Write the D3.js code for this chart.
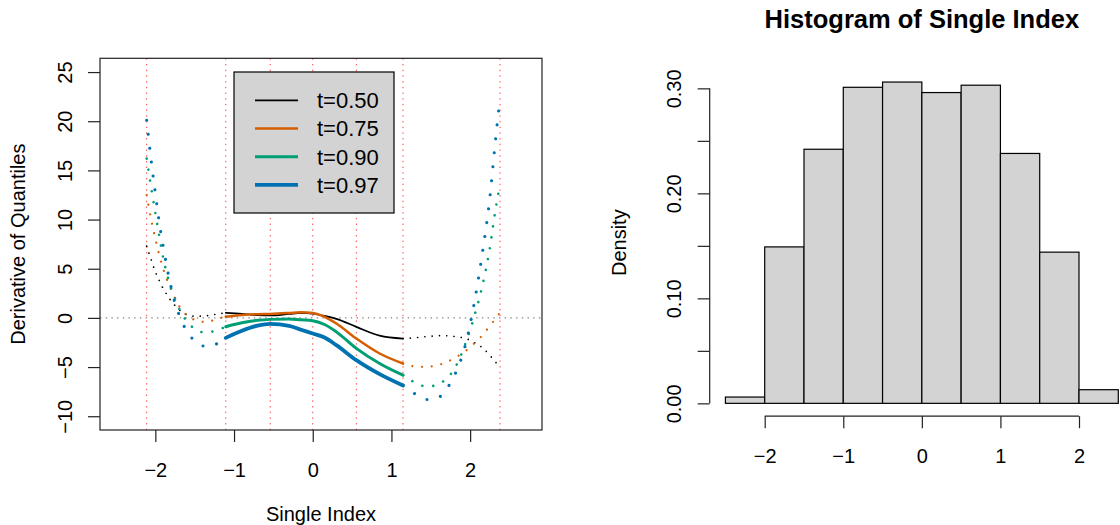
<!DOCTYPE html>
<html>
<head>
<meta charset="utf-8">
<script src="https://cdn.jsdelivr.net/npm/d3@7"></script>
<style>
  body { margin: 0; background: #fff; }
  svg { font-family: "Liberation Sans", Arial, Helvetica, sans-serif; }
</style>
</head>
<body>
<div id="chart"></div>
<script>
// Grid of single index values and the derivative curves
const xGrid = [-2.11, -2.05, -2.0, -1.95, -1.9, -1.85, -1.8, -1.75, -1.7, -1.6, -1.5, -1.4, -1.3, -1.2, -1.105,
  -0.9, -0.7, -0.54, -0.3, -0.15, 0, 0.15, 0.3, 0.554, 0.85, 1.147,
  1.25, 1.35, 1.45, 1.55, 1.65, 1.75, 1.85, 1.95, 2.05, 2.15, 2.25, 2.32, 2.38];

const derivT50 = [7.3, 5.86, 4.7, 3.8, 2.98, 2.33, 1.73, 1.26, 0.85, 0.32, 0.17, 0.18, 0.27, 0.41, 0.52,
  0.42, 0.28, 0.25, 0.4, 0.5, 0.42, 0.2, -0.1, -0.91, -1.8, -2.1,
  -2.05, -1.98, -1.9, -1.84, -1.8, -1.85, -1.95, -2.1, -2.5, -3.0, -3.8, -4.47, -5.0];
const derivT75 = [12.5, 9.9, 8.1, 6.4, 5.0, 3.83, 2.88, 2.0, 1.25, 0.27, -0.2, -0.4, -0.32, -0.07, 0.12,
  0.3, 0.38, 0.4, 0.5, 0.58, 0.5, 0.1, -0.57, -2.1, -3.62, -4.64,
  -4.88, -4.98, -4.98, -4.87, -4.66, -4.31, -3.86, -3.32, -2.6, -1.82, -0.8, -0.1, 0.55];
const derivT90 = [16.2, 13.1, 10.7, 8.3, 6.1, 4.4, 3.05, 1.95, 1.0, -0.35, -1.1, -1.45, -1.42, -1.2, -0.9,
  -0.5, -0.25, -0.15, -0.1, -0.2, -0.3, -0.67, -1.42, -3.1, -4.64, -5.83,
  -6.35, -6.8, -6.95, -6.9, -6.5, -5.75, -4.4, -2.4, 0.1, 3.1, 7.1, 10.9, 13.6];
const derivT97 = [20.1, 15.8, 12.7, 9.7, 7.25, 5.05, 3.15, 1.5, 0.35, -1.35, -2.34, -2.85, -2.88, -2.55, -2.03,
  -1.3, -0.78, -0.6, -0.8, -1.2, -1.59, -2.0, -2.77, -4.3, -5.72, -6.87,
  -7.45, -8.0, -8.3, -8.2, -7.8, -6.6, -4.95, -2.45, 1.4, 6.3, 12.2, 17.9, 22.4];

const seriesNames = ["t=0.50", "t=0.75", "t=0.90", "t=0.97"];
const seriesColors = ["#000000", "#D55E00", "#009E73", "#0072B2"];
const lineWidths = [1.7, 2.5, 3, 3.8];
const dotSizes = [1.7, 2.2, 2.6, 3.1];
const dotPeriods = [7.3, 9.7, 11, 14];

// knots (red dotted verticals) and the range drawn solid
const knots = [-2.11, -1.105, -0.54, 0, 0.554, 1.147, 2.38];
const solidRange = [-1.105, 1.147];

const xlimLeft = [-2.495, 2.705];
const ylimLeft = [-10, 25];
const xTicksLeft = [-2, -1, 0, 1, 2];
const yTicksLeft = [-10, -5, 0, 5, 10, 15, 20, 25];

// histogram
const histBreaks = [-2.5, -2, -1.5, -1, -0.5, 0, 0.5, 1, 1.5, 2, 2.5];
const histDensity = [0.006, 0.149, 0.242, 0.301, 0.306, 0.296, 0.303, 0.238, 0.144, 0.013];
const histXTicks = [-2, -1, 0, 1, 2];
const histYTicks = [0, 0.05, 0.10, 0.15, 0.20, 0.25, 0.30];

const width = 1120, height = 525;
const fontSize = 20;
const intFormat = d3.format("d");

const svg = d3.select("#chart").append("svg")
  .attr("width", width)
  .attr("height", height);

// R style 4% padding around the limits
function pad(lim) {
  const d = (lim[1] - lim[0]) * 0.04;
  return [lim[0] - d, lim[1] + d];
}

// ---------- left panel ----------
const left = { x0: 100, x1: 542, y0: 58.3, y1: 430 };
const xL = d3.scaleLinear().domain(pad(xlimLeft)).range([left.x0, left.x1]);
const yL = d3.scaleLinear().domain(pad(ylimLeft)).range([left.y1, left.y0]);

const gL = svg.append("g");

// red dotted knot lines
gL.selectAll(".knot")
  .data(knots)
  .enter().append("line")
  .attr("x1", d => xL(d)).attr("x2", d => xL(d))
  .attr("y1", left.y0).attr("y2", left.y1)
  .attr("stroke", "#ff0000")
  .attr("stroke-opacity", 0.75)
  .attr("stroke-width", 1)
  .attr("stroke-dasharray", "1.4 4.3");

// horizontal zero line
gL.append("line")
  .attr("x1", left.x0).attr("x2", left.x1)
  .attr("y1", yL(0)).attr("y2", yL(0))
  .attr("stroke", "#666")
  .attr("stroke-width", 1)
  .attr("stroke-dasharray", "1.4 4.3");

const allSeries = [derivT50, derivT75, derivT90, derivT97];

const line = d3.line()
  .x(d => xL(d[0]))
  .y(d => yL(d[1]))
  .curve(d3.curveMonotoneX);

allSeries.forEach((vals, i) => {
  const pts = xGrid.map((x, j) => [x, vals[j]]);
  const leftPart = pts.filter(p => p[0] <= solidRange[0]);
  const midPart = pts.filter(p => p[0] >= solidRange[0] && p[0] <= solidRange[1]);
  const rightPart = pts.filter(p => p[0] >= solidRange[1]);

  [leftPart, rightPart].forEach(part => {
    gL.append("path")
      .attr("d", line(part))
      .attr("fill", "none")
      .attr("stroke", seriesColors[i])
      .attr("stroke-width", dotSizes[i])
      .attr("stroke-linecap", "round")
      .attr("stroke-dasharray", "0.01 " + dotPeriods[i]);
  });

  gL.append("path")
    .attr("d", line(midPart))
    .attr("fill", "none")
    .attr("stroke", seriesColors[i])
    .attr("stroke-width", lineWidths[i])
    .attr("stroke-linecap", "round");
});

// box
gL.append("rect")
  .attr("x", left.x0).attr("y", left.y0)
  .attr("width", left.x1 - left.x0)
  .attr("height", left.y1 - left.y0)
  .attr("fill", "none")
  .attr("stroke", "#222")
  .attr("stroke-width", 1.2);

// x axis
const xAxisL = gL.append("g")
  .attr("transform", "translate(0," + left.y1 + ")")
  .call(d3.axisBottom(xL).tickValues(xTicksLeft).tickSize(12).tickFormat(intFormat));
xAxisL.select(".domain").remove();
xAxisL.selectAll("text").attr("y", 47).attr("dy", 0)
  .style("font-size", fontSize + "px").attr("fill", "#000");
xAxisL.selectAll("line").attr("stroke", "#222").attr("stroke-width", 1.2);

// y axis
const yAxisL = gL.append("g")
  .attr("transform", "translate(" + left.x0 + ",0)")
  .call(d3.axisLeft(yL).tickValues(yTicksLeft).tickSize(12).tickFormat(intFormat));
yAxisL.select(".domain").remove();
yAxisL.selectAll("line").attr("stroke", "#222").attr("stroke-width", 1.2);
yAxisL.selectAll("text")
  .attr("x", null).attr("dy", 0)
  .attr("text-anchor", "middle")
  .attr("transform", "translate(-28,0) rotate(-90)")
  .style("font-size", fontSize + "px").attr("fill", "#000");

// axis titles
svg.append("text")
  .attr("x", (left.x0 + left.x1) / 2)
  .attr("y", 521)
  .attr("text-anchor", "middle")
  .style("font-size", fontSize + "px")
  .text("Single Index");

svg.append("text")
  .attr("transform", "translate(25," + (left.y0 + left.y1) / 2 + ") rotate(-90)")
  .attr("text-anchor", "middle")
  .style("font-size", fontSize + "px")
  .text("Derivative of Quantiles");

// legend
const legend = gL.append("g").attr("transform", "translate(234,72)");
legend.append("rect")
  .attr("width", 160).attr("height", 141)
  .attr("fill", "#d3d3d3")
  .attr("stroke", "#000")
  .attr("stroke-width", 1.2);

const legendRows = legend.selectAll(".legend")
  .data(seriesNames)
  .enter().append("g")
  .attr("class", "legend")
  .attr("transform", (d, i) => "translate(0," + (28.3 + i * 28.2) + ")");

legendRows.append("line")
  .attr("x1", 21).attr("x2", 64)
  .attr("stroke", (d, i) => seriesColors[i])
  .attr("stroke-width", (d, i) => lineWidths[i]);

legendRows.append("text")
  .attr("x", 83)
  .attr("dy", "0.36em")
  .style("font-size", "22px")
  .text(d => d);

// ---------- right panel: histogram ----------
const right = { x0: 709.7, x1: 1134, y0: 69.2, y1: 416.2 };
const xH = d3.scaleLinear()
  .domain(pad([histBreaks[0], histBreaks[histBreaks.length - 1]]))
  .range([right.x0, right.x1]);
const yH = d3.scaleLinear()
  .domain(pad([0, d3.max(histDensity)]))
  .range([right.y1, right.y0]);

const gH = svg.append("g");

gH.selectAll(".bar")
  .data(histDensity)
  .enter().append("rect")
  .attr("class", "bar")
  .attr("x", (d, i) => xH(histBreaks[i]))
  .attr("width", (d, i) => xH(histBreaks[i + 1]) - xH(histBreaks[i]))
  .attr("y", d => yH(d))
  .attr("height", d => yH(0) - yH(d))
  .attr("fill", "#d3d3d3")
  .attr("stroke", "#000")
  .attr("stroke-width", 1.2);

// x axis
const xAxisH = gH.append("g")
  .attr("transform", "translate(0," + right.y1 + ")")
  .call(d3.axisBottom(xH).tickValues(histXTicks).tickSize(12).tickFormat(intFormat));
xAxisH.select(".domain").remove();
xAxisH.append("line")
  .attr("x1", xH(histXTicks[0])).attr("x2", xH(histXTicks[histXTicks.length - 1]))
  .attr("stroke", "#222").attr("stroke-width", 1.2);
xAxisH.selectAll("line").attr("stroke", "#222").attr("stroke-width", 1.2);
xAxisH.selectAll("text").attr("y", 47).attr("dy", 0)
  .style("font-size", fontSize + "px").attr("fill", "#000");

// y axis
const yAxisH = gH.append("g")
  .attr("transform", "translate(" + right.x0 + ",0)")
  .call(d3.axisLeft(yH).tickValues(histYTicks).tickSize(12)
    .tickFormat((d, i) => i % 2 === 0 ? d3.format(".2f")(d) : ""));
yAxisH.select(".domain").remove();
yAxisH.append("line")
  .attr("y1", yH(histYTicks[0])).attr("y2", yH(histYTicks[histYTicks.length - 1]))
  .attr("stroke", "#222").attr("stroke-width", 1.2);
yAxisH.selectAll("line").attr("stroke", "#222").attr("stroke-width", 1.2);
yAxisH.selectAll("text")
  .attr("x", null).attr("dy", 0)
  .attr("text-anchor", "middle")
  .attr("transform", "translate(-29,0) rotate(-90)")
  .style("font-size", fontSize + "px").attr("fill", "#000");

svg.append("text")
  .attr("transform", "translate(626," + (right.y0 + right.y1) / 2 + ") rotate(-90)")
  .attr("text-anchor", "middle")
  .style("font-size", fontSize + "px")
  .text("Density");

svg.append("text")
  .attr("x", (right.x0 + right.x1) / 2)
  .attr("y", 28)
  .attr("text-anchor", "middle")
  .style("font-size", "25.5px")
  .style("font-weight", "bold")
  .text("Histogram of Single Index");
</script>
</body>
</html>
